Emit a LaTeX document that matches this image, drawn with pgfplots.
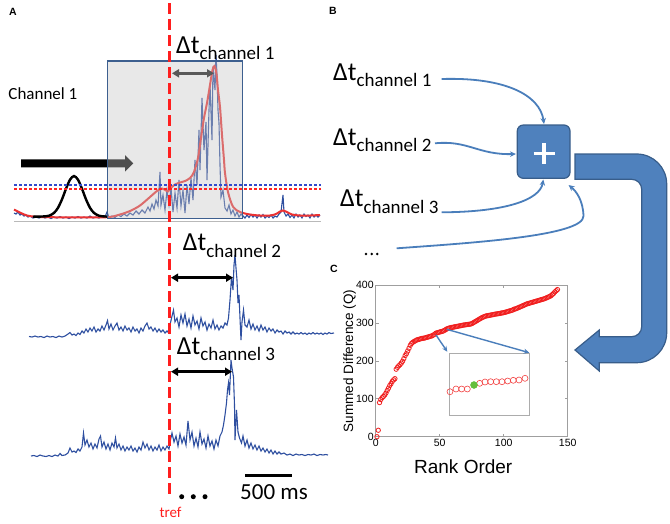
\documentclass[border=0pt]{standalone}
\usepackage{pgfplots}
\pgfplotsset{compat=1.18}
\usepackage{fontspec}
\setmainfont{Carlito}
\newfontfamily\arial{Liberation Sans}
\usetikzlibrary{arrows.meta}

\definecolor{trblue}{RGB}{46,79,160}
\definecolor{trred}{RGB}{235,50,50}
\definecolor{thblue}{RGB}{50,75,205}
\definecolor{thred}{RGB}{255,35,35}
\definecolor{boxgray}{RGB}{197,197,197}
\definecolor{boxedge}{RGB}{61,95,143}
\definecolor{ppblue}{RGB}{79,129,189}
\definecolor{ppedge}{RGB}{56,93,138}
\definecolor{arrblue}{RGB}{74,126,187}
\definecolor{trefred}{RGB}{255,30,30}
\definecolor{dkgray}{RGB}{89,89,89}
\definecolor{scatred}{RGB}{240,30,30}
\definecolor{dotgreen}{RGB}{100,190,60}

% Delta-t label: \dt{n}
\newcommand{\dt}[1]{{\fontsize{26}{26}\selectfont Δt}\raisebox{-6.5pt}{\fontsize{19}{19}\selectfont channel #1}}

\begin{document}
\begin{tikzpicture}
\path[use as bounding box] (0pt,0pt) rectangle (670pt,-523pt);

% ---------- panel A: traces, drawn in pixel units ----------
\begin{axis}[at={(0pt,0pt)}, anchor=north west, scale only axis,
  width=670pt, height=523pt, xmin=0, xmax=670, ymin=0, ymax=523,
  y dir=reverse, hide axis, clip=false]
% trace axis line
\addplot[gray!55, line width=0.8pt] coordinates {(14,221.7) (321,221.7)};
% channel 1, raw
\addplot[trblue, line width=1.1pt] coordinates {
(14,213) (16,214) (18,212) (20,215) (22,214) (24,216) (26,215) (28,217) (30,216) (33,218)
(36,217) (39,218) (42,216.5) (45,218) (48,217) (51,218.5) (54,217) (57,218) (60,216.5) (63,218)
(66,217) (69,218.5) (72,217) (75,218) (78,216.5) (81,218) (84,217) (87,218) (90,216) (93,218)
(96,217) (99,218) (102,216) (105,217) (107,212) (109,217) (112,216) (115,217.5) (118,215) (121,216.5)
(124,214) (127,216) (130,213) (133,215) (136,211) (139,214) (142,210) (145,213) (148,207) (150,211)
(152,204) (154,209) (156,200) (158,206) (160,172) (161,205) (163,195) (165,210) (167,190) (169,205)
(171,188) (173,212) (175,193) (177,208) (179,180) (181,206) (183,190) (185,213) (187,185) (189,204)
(191,178) (193,200) (195,160) (197,185) (199,130) (200,170) (202,98) (204,150) (206,122) (207,180)
(209,110) (210,84) (212,140) (213,67) (215,90) (216,55) (217,75) (218,110) (219,123) (220,165)
(221,197) (223,190) (225,208) (227,211) (229,205) (231,214) (233,210) (235,216) (237,212) (239,217)
(241,214) (243,216) (245,218) (247,215) (249,217.5) (251,214.5) (253,217) (255,215) (257,218) (259,215)
(261,217) (263,214.5) (265,218) (267,216) (269,217.5) (271,215) (273,218) (275,216) (277,217) (279,214)
(281,212) (283,195) (284,212) (286,216) (288,214) (290,217.5) (292,215) (294,218) (296,214) (298,217)
(300,215) (302,218) (304,214) (306,216.5) (308,215) (310,218) (312,214) (314,217) (316,215) (318,217)
(320,215)};
% channel 1, smoothed
\addplot[trred, line width=2pt, smooth] coordinates {
(14,209.5) (18,211.5) (22,213.5) (27,215.5) (33,216.5) (40,217) (60,217.3) (80,217.3) (100,217.3)
(110,217) (120,214.5) (130,211) (140,205.5) (150,197) (157,191) (162,188.5) (166,190.5) (168,191.5)
(171,188) (175,184.5) (180,182.5) (185,181) (190,178) (194,172) (198,158) (201,138) (204,118)
(207,103) (210,85) (212.5,70) (214.5,66) (216.5,74) (218,90) (220,107) (222,135) (224,160)
(225,173) (228,192) (233,206.7) (240,212) (250,214.5) (260,215.5) (270,215.5) (276,214) (280,211.5)
(283,210.5) (287,212) (292,214.5) (300,215.5) (310,215.5) (320,215)};
% channel 2
\addplot[trblue, line width=1.1pt] coordinates {
(29,336.5) (32,337) (35,336) (38,337) (41,336.5) (44,337.5) (47,336) (50,337) (53,336.5) (56,337.5)
(59,336) (62,337) (65,336) (68,334) (70,332.5) (72,335) (74,334) (76,335.5) (78,333) (80,334.5)
(82,331) (84,333) (86,329) (88,332) (90,328) (92,331) (94,327) (96,332) (98,329) (100,331)
(102,326) (104,330) (106,325) (107.5,320.5) (109,329) (111,324) (113,330) (115,326) (117,323) (119,330)
(121,327) (123,331) (125,326) (127,330) (129,328) (131,332) (133,327) (135,331) (137,329) (139,333)
(141,328) (143,331) (145,326) (147,323) (149,329) (151,327) (153,331) (155,328) (157,332) (159,329)
(161,332) (163,330) (165,333) (167,331) (169,333) (170,325) (172,316) (173.5,310) (175,322) (177,318)
(179,327) (181,315) (183,323) (185,314) (187,326) (189,319) (191,328) (193,316) (195,325) (197,321)
(199,329) (201,318) (203,326) (205,322) (207,330) (209,324) (211,328) (213,320) (215,329) (217,325)
(219,330) (221,326) (223,328) (225,323) (227,325) (228.5,318) (230,300) (231.5,277) (233,290) (234,265)
(235,255) (236,268) (237,280) (238,303) (239,295) (240,318) (241,340) (242,322) (243.5,310) (245,325)
(247,327) (249,320) (251,329) (253,324) (255,330) (257,326) (259,331) (261,325) (263,330) (265,327)
(267,332) (269,328) (271,331) (273,329) (275,333) (277,330) (279,332) (281,331) (283,334) (285,331)
(287,333) (289,332) (291,334) (293,332) (295,334) (297,333) (299,334) (301,332.5) (303,334) (305,333)
(307,334.5) (309,333) (311,334) (313,332.5) (315,334) (317,333) (319,334) (321,333) (323,334.5) (325,333)
(327,334) (329,332.5) (331,333.5) (334,333)};
% channel 3
\addplot[trblue, line width=1.1pt] coordinates {
(31,456) (34,455.5) (37,456.5) (40,455) (43,456) (46,456.5) (49,455.5) (52,456.5) (55,455) (58,456)
(60,453.5) (62,455.5) (65,455) (68,453) (70,448) (72,452) (74,451) (76,452.5) (78,449) (80,451)
(82,447) (83.5,433) (85,445) (87,440) (89,447) (91,443) (93,449) (95,444) (97,448) (99,439)
(100.5,436) (102,447) (104,442) (106,449) (108,444) (110,450) (112,443) (114,447) (115.5,438) (117,448)
(119,444) (121,450) (123,446) (125,451) (127,447) (129,450) (131,446) (133,451) (135,448) (137,452)
(139,447) (141,450) (143,442) (145,448) (147,444) (149,450) (151,446) (153,451) (155,447) (157,450)
(159,445) (161,451) (163,447) (165,450) (167,446) (169,449) (170.5,440) (172,433) (174,442) (176,436)
(178,446) (180,434) (182,443) (184,437) (186,445) (188,421) (190,440) (192,432) (194,446) (196,438)
(198,447) (200,432) (202,444) (204,439) (206,448) (208,436) (210,446) (212,441) (214,449) (216,440)
(218,446) (220,436) (222,432) (223.5,425) (225,415) (226.5,403) (227.5,390) (228.5,383) (229.5,395) (231,360)
(232,368) (233.5,377) (234.5,405) (235,440) (236.5,410) (238,432) (239.5,438) (241.5,443) (243,436) (245,446)
(247,440) (249,448) (251,443) (253,449) (255,445) (257,450) (259,446) (261,451) (263,448) (265,452)
(267,449) (269,453) (271,450) (273,454) (275,451) (277,454) (279,452) (281,454) (284,453) (287,455)
(290,454) (293,455.5) (296,454) (299,455) (302,454.5) (305,455.5) (308,454.5) (311,455) (314,454) (317,455.5)
(320,454.5) (323,455) (326,454.5) (328,455)};
% gaussian kernel
\addplot[black, line width=2.4pt, smooth] coordinates {
(33,216.7) (38,216.6) (44,216.4) (49,215.7) (54,212.9) (58,207.8) (62,199.3) (66,188.8) (70,179.7)
(74,176) (78,179.7) (82,188.8) (86,199.3) (90,207.8) (94,212.9) (99,215.7) (104,216.4) (108,216.6)};
% sliding arrow (under the window)
\fill[black] (21,159.3) -- (125,159.3) -- (125,155) -- (133.3,163.3) -- (125,171.7) -- (125,167.3) -- (21,167.3) -- cycle;
% window
\fill[boxgray, fill opacity=0.4] (107.7,61) rectangle (242.3,218.3);
\draw[boxedge, line width=1.2pt] (107.7,61) rectangle (242.3,218.3);
% thresholds
\addplot[thblue, line width=1.2pt, dash pattern=on 3pt off 2pt] coordinates {(14,185) (320.7,185)};
\addplot[thred, line width=1.2pt, dash pattern=on 3pt off 2pt] coordinates {(14,189) (320.7,189)};
\end{axis}

% ---------- diagram elements (pixel units, y down) ----------
\begin{scope}[x=1pt, y=-1pt]
\draw[trefred, line width=3.5pt, dash pattern=on 11pt off 5pt] (169.3,3) -- (169.3,497);
\node[trefred, anchor=base, inner sep=0, font=\fontsize{15}{15}\selectfont] at (170.5,517) {tref};

\draw[dkgray, line width=2.6pt, {Triangle[length=7pt,width=8pt]}-{Triangle[length=7pt,width=8pt]}] (172,73.3) -- (214,73.3);
\draw[black, line width=2.6pt, {Triangle[length=7pt,width=8pt]}-{Triangle[length=7pt,width=8pt]}] (171,277.7) -- (233,277.7);
\draw[black, line width=2.6pt, {Triangle[length=7pt,width=8pt]}-{Triangle[length=7pt,width=8pt]}] (171,371.7) -- (232,371.7);

\node[anchor=base west, inner sep=0] at (176,53.3) {\dt{1}};
\node[anchor=base west, inner sep=0] at (182.7,250.7) {\dt{2}};
\node[anchor=base west, inner sep=0] at (176.7,354) {\dt{3}};

\node[anchor=base west, inner sep=0, font=\fontsize{17}{17}\selectfont] at (8.3,99.3) {Channel 1};

\draw[black, line width=3pt] (245,475) -- (291.7,475);
\node[anchor=base west, inner sep=0, font=\fontsize{23}{23}\selectfont] at (240,499.3) {500 ms};
\foreach \xx in {181.7,193.3,205} \fill[black] (\xx,496.7) circle (2.5);

% panel labels
\node[font=\arial\bfseries\fontsize{10.5}{10.5}\selectfont, inner sep=0] at (13,12) {A};
\node[font=\arial\bfseries\fontsize{10.5}{10.5}\selectfont, inner sep=0] at (333,11) {B};
\node[font=\arial\bfseries\fontsize{10.5}{10.5}\selectfont, inner sep=0] at (334,269) {C};

% panel B
\node[anchor=base west, inner sep=0] at (333,80) {\dt{1}};
\node[anchor=base west, inner sep=0] at (333,145) {\dt{2}};
\node[anchor=base west, inner sep=0] at (340,206.7) {\dt{3}};
\foreach \xx in {366,371.7,377.3} \fill[black] (\xx,254) circle (1.4);

\begin{scope}[arrblue, line width=1.8pt, -{Stealth[length=6pt,width=5.5pt]}]
\draw (441.7,79) .. controls (505,77) and (540,95) .. (544,124);
\draw (435,143.3) .. controls (468,140) and (478,155) .. (516,154);
\draw (441.7,212.3) .. controls (505,212) and (540,200) .. (543.3,179.5);
\draw (396.7,248.3) .. controls (470,243) and (584,236) .. (583.5,216) .. controls (583,200) and (576,191) .. (568.5,185);
\end{scope}

\filldraw[fill=ppblue, draw=ppedge, line width=1.2pt, rounded corners=6pt] (517.3,125) rectangle (570,178.3);
\draw[white, line width=3.5pt] (533.5,153.5) -- (554.5,153.5) (544,143) -- (544,164);

% big feedback arrow
\filldraw[fill=ppblue, draw=ppedge, line width=1.2pt]
  (575,154) -- (636.7,154) .. controls (653.3,154) and (666.7,167.4) .. (666.7,184)
  -- (666.7,332.7) .. controls (666.7,349.3) and (653.3,362.7) .. (636.7,362.7)
  -- (599.3,362.7) -- (599.3,371) -- (575,350) -- (599.3,330) -- (599.3,336.7)
  -- (631.7,336.7) .. controls (637.2,336.7) and (641.7,332.2) .. (641.7,326.7)
  -- (641.7,189.3) .. controls (641.7,183.8) and (637.2,179.3) .. (631.7,179.3)
  -- (575,179.3) -- cycle;
\end{scope}

% ---------- panel C ----------
\begin{axis}[at={(375.7pt,-436.7pt)}, anchor=south west, scale only axis,
  width=192pt, height=151.7pt,
  xmin=0, xmax=150, ymin=0, ymax=400,
  xtick={0,50,100,150}, ytick={0,100,...,400},
  axis line style={draw=gray!75, line width=0.7pt},
  tick style={gray!75, line width=0.6pt}, tick align=inside, major tick length=3pt,
  /pgf/number format/assume math mode=true,
  ticklabel style={font=\arial\fontsize{10.5}{12}\selectfont},
  xticklabel style={yshift=1pt}, yticklabel style={xshift=1.5pt},
  xlabel={Rank Order}, ylabel={Summed Difference (Q)},
  xlabel style={font=\arial\fontsize{19}{20}\selectfont, at={(axis description cs:0.456,-0.2)}, anchor=center},
  ylabel style={font=\arial\fontsize{13.5}{14}\selectfont, at={(axis description cs:-0.136,0.5)}, anchor=center},
  clip=false]
\addplot[only marks, mark=o, mark size=2.2pt, scatred, mark options={line width=0.8pt}] table {
x y
1 0
2 17
3 90
4 98
5 103
6 106
7 110
8 115
9 122
10 128
11 135
12 140
13 146
14 150
15 153
16 178
17 183
18 187
19 190
20 194
21 199
22 206
23 214
24 219
25 226
26 233
27 241
28 246
29 249
30 251
31 253
32 255
33 256
34 257
35 258
36 259
37 259.5
38 260
39 261
40 262
41 263
42 264
43 265
44 266
45 268
46 270
47 273
48 274
49 275
50 276
51 277
52 278
53 279
54 281
55 283
56 285
57 286
58 287
59 288
60 288.5
61 289
62 290
63 290.5
64 291
65 292
66 292.5
67 293
68 294
69 294.5
70 295
71 295.5
72 296
73 296.5
74 297
75 298
76 300
77 302
78 304
79 306
80 308
81 310
82 312
83 314
84 315.5
85 317
86 318
87 319
88 319.5
89 320
90 321
91 321.5
92 322
93 323
94 323.5
95 324
96 324.5
97 325
98 326
99 326.5
100 327
101 328
102 329
103 330
104 331
105 332
106 333
107 334
108 336
109 337
110 338
111 339.5
112 341
113 342.5
114 344
115 345.5
116 347
117 348.5
118 350
119 351
120 352
121 353
122 354
123 355
124 356
125 357
126 358
127 359
128 360
129 361
130 362
131 363
132 364
133 365.5
134 367
135 368.5
136 370
137 372
138 375
139 378
140 382
141 385
142 388
};
\end{axis}

% inset (zoom on ranks near the reference)
\begin{axis}[at={(449.3pt,-415.7pt)}, anchor=south west, scale only axis,
  width=80pt, height=62.4pt, xmin=0, xmax=80, ymin=0, ymax=62.4,
  xtick=\empty, ytick=\empty,
  axis line style={draw=gray!65, line width=1.2pt}, clip=false]
\addplot[only marks, mark=o, mark size=3pt, scatred!85, mark options={line width=0.6pt}] coordinates {
(0.7,24) (6.7,26.7) (12.4,26.7) (18,26.7) (30.4,32.4) (35.7,33.7) (41.4,34) (47,34)
(52.7,34) (58.4,34.7) (64,35.4) (69.7,35.7) (75.7,37.4)};
\addplot[only marks, mark=*, mark size=3.5pt, dotgreen, mark options={draw=dotgreen}] coordinates {(24.7,30.7)};
\end{axis}

\begin{scope}[x=1pt, y=-1pt, arrblue, line width=1.4pt, -{Stealth[length=5.5pt,width=5pt]}]
\draw (436,335) -- (447.3,351.7);
\draw (446.7,329.3) -- (529.3,352.7);
\end{scope}
\end{tikzpicture}
\end{document}
